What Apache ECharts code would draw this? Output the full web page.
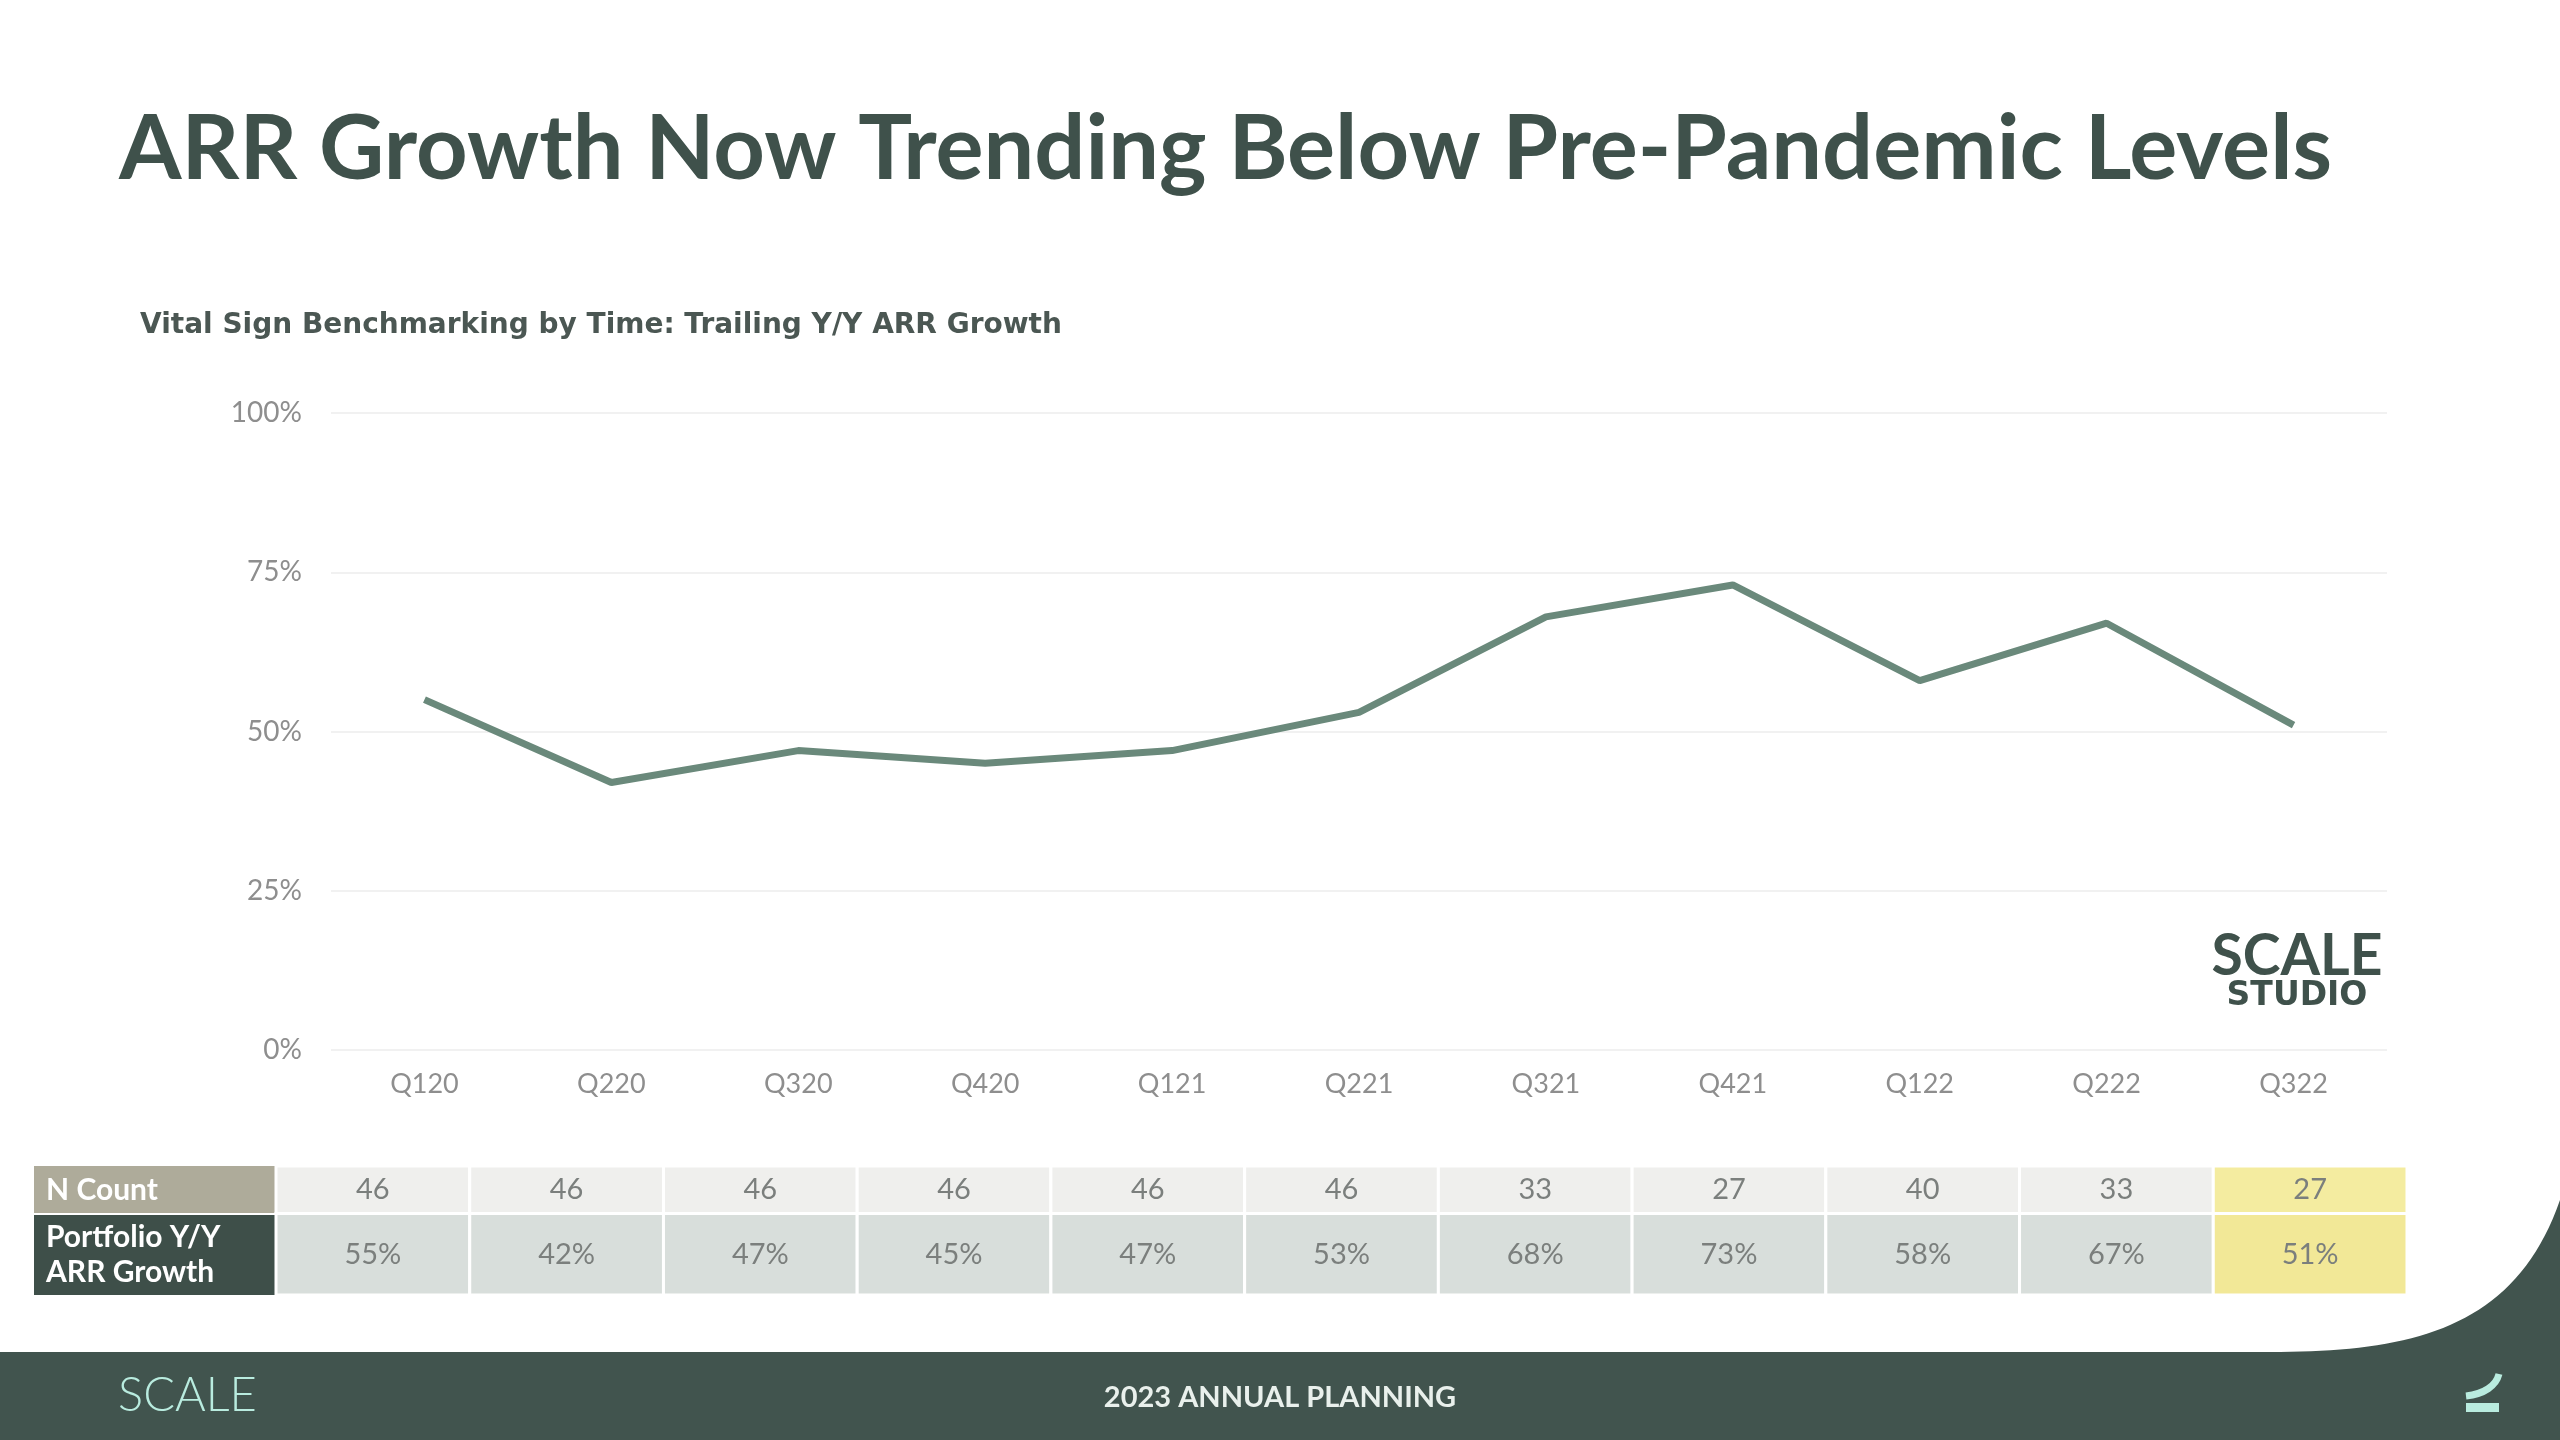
<!DOCTYPE html>
<html>
<head>
<meta charset="utf-8">
<script src="https://cdn.jsdelivr.net/npm/echarts@6/dist/echarts.min.js"></script>
<style>
  html, body { margin: 0; padding: 0; background: #fff; }
  #main { width: 2560px; height: 1440px; }
</style>
</head>
<body>
<div id="main"></div>
<script>
// 数据
const quarters = ['Q120', 'Q220', 'Q320', 'Q420', 'Q121', 'Q221', 'Q321', 'Q421', 'Q122', 'Q222', 'Q322'];
const growth = [55, 42, 47, 45, 47, 53, 68, 73, 58, 67, 51];
const nCount = [46, 46, 46, 46, 46, 46, 33, 27, 40, 33, 27];
const rowLabels = ['N Count', 'Portfolio Y/Y\nARR Growth'];
const highlightIdx = quarters.length - 1; // 最后一列高亮

const FONT = 'Lato, "Open Sans", sans-serif';
const WIDE = '"DejaVu Sans", Lato, sans-serif';
const DARK = '#3f514b';

// 表格单元格 [列, 行]
const tableCells = [];
for (let i = 0; i < quarters.length; i++) {
    tableCells.push([i, 0]);
    tableCells.push([i, 1]);
}

function renderCell(params, api) {
    const i = api.value(0);
    const row = api.value(1);
    const cs = params.coordSys;
    const cx = api.coord([i, 0])[0];
    const w = api.size([1, 0])[0];
    const split = cs.y + cs.height * 0.368;
    const top = row === 0 ? cs.y : split;
    const h = row === 0 ? split - cs.y : cs.y + cs.height - split;
    let fill;
    if (i === highlightIdx) fill = row === 0 ? '#f4eca0' : '#f2e897';
    else fill = row === 0 ? '#efefed' : '#d8dedb';
    const txt = row === 0 ? String(nCount[i]) : growth[i] + '%';
    return {
        type: 'group',
        children: [{
            type: 'rect',
            shape: { x: cx - w / 2, y: top, width: w, height: h },
            style: { fill: fill, stroke: '#ffffff', lineWidth: 3 }
        }, {
            type: 'text',
            style: {
                text: txt, x: cx, y: top + h / 2,
                align: 'center', verticalAlign: 'middle',
                textAlign: 'center', textVerticalAlign: 'middle',
                font: '29px ' + FONT, fill: '#7b7f7d'
            }
        }]
    };
}

function txt(x, y, text, font, fill, align, extra) {
    return {
        type: 'text', z: 10,
        style: Object.assign({
            x: x, y: y, text: text, font: font, fill: fill,
            align: align || 'left', verticalAlign: 'middle',
            textAlign: align || 'left', textVerticalAlign: 'middle'
        }, extra || {})
    };
}

// 页脚右侧弧线（三次贝塞尔取点）
function bezierPoints(p0, p1, p2, p3, n) {
    const pts = [];
    for (let k = 0; k <= n; k++) {
        const t = k / n, u = 1 - t;
        pts.push([
            u * u * u * p0[0] + 3 * u * u * t * p1[0] + 3 * u * t * t * p2[0] + t * t * t * p3[0],
            u * u * u * p0[1] + 3 * u * u * t * p1[1] + 3 * u * t * t * p2[1] + t * t * t * p3[1]
        ]);
    }
    return pts;
}
const footerPts = [[0, 1352]].concat(
    bezierPoints([2270, 1352], [2410, 1352], [2515, 1330], [2560, 1200], 40),
    [[2560, 1440], [0, 1440]]
);

const chart = echarts.init(document.getElementById('main'));

const option = {
    backgroundColor: '#ffffff',
    animation: false,
    grid: [
        { left: 331, top: 413, width: 2056, height: 637 },
        { left: 276, top: 1166, width: 2131, height: 129 }
    ],
    xAxis: [{
        type: 'category', gridIndex: 0, data: quarters, boundaryGap: true,
        axisLine: { show: false }, axisTick: { show: false },
        axisLabel: { margin: 21, fontSize: 27, color: '#8e8e8e', fontFamily: FONT }
    }, {
        type: 'category', gridIndex: 1, data: quarters, show: false
    }],
    yAxis: [{
        type: 'value', gridIndex: 0, min: 0, max: 100, interval: 25,
        axisLine: { show: false }, axisTick: { show: false },
        axisLabel: { formatter: '{value}%', margin: 29, fontSize: 28, color: '#8e8e8e', fontFamily: FONT },
        splitLine: { lineStyle: { color: '#f1f1f1', width: 2 } }
    }, {
        type: 'value', gridIndex: 1, min: 0, max: 1, show: false
    }],
    series: [{
        type: 'line', xAxisIndex: 0, yAxisIndex: 0,
        data: growth, symbol: 'none',
        lineStyle: { color: '#6a897b', width: 7 }
    }, {
        type: 'custom', xAxisIndex: 1, yAxisIndex: 1,
        data: tableCells, renderItem: renderCell
    }],
    graphic: [
        // 标题
        txt(119, 150, 'ARR Growth Now Trending Below Pre-Pandemic Levels', 'bold 90px ' + FONT, DARK),
        txt(140, 326, 'Vital Sign Benchmarking by Time: Trailing Y/Y ARR Growth', 'bold 28px ' + WIDE, '#4b5753'),
        // 水印
        txt(2297, 957, 'SCALE', 'bold 57px ' + FONT, DARK, 'center'),
        txt(2297, 996, 'STUDIO', 'bold 33px ' + WIDE, DARK, 'center'),
        // 表头
        { type: 'rect', shape: { x: 34, y: 1166, width: 242, height: 47 }, style: { fill: '#aeab9a' } },
        { type: 'rect', shape: { x: 34, y: 1215, width: 242, height: 80 }, style: { fill: '#3e4f49' } },
        txt(46, 1190, rowLabels[0], 'bold 30px ' + FONT, '#ffffff'),
        txt(46, 1255, rowLabels[1], 'bold 30px ' + FONT, '#ffffff', 'left', { lineHeight: 35 }),
        // 页脚
        { type: 'polygon', z: 5, shape: { points: footerPts }, style: { fill: '#41544e' } },
        txt(118, 1396, 'SCALE', '300 47px ' + FONT, '#b9ecdf'),
        txt(1280, 1398, '2023 ANNUAL PLANNING', 'bold 29px ' + FONT, '#e9f0ec', 'center'),
        {
            type: 'bezierCurve', z: 10,
            shape: { x1: 2466, y1: 1396, x2: 2499, y2: 1374, cpx1: 2484, cpy1: 1394, cpx2: 2496, cpy2: 1386 },
            style: { stroke: '#b9ecdf', lineWidth: 7, fill: null }
        },
        { type: 'rect', z: 10, shape: { x: 2466, y: 1403, width: 33, height: 9 }, style: { fill: '#b9ecdf' } }
    ]
};

chart.setOption(option);
</script>
</body>
</html>
